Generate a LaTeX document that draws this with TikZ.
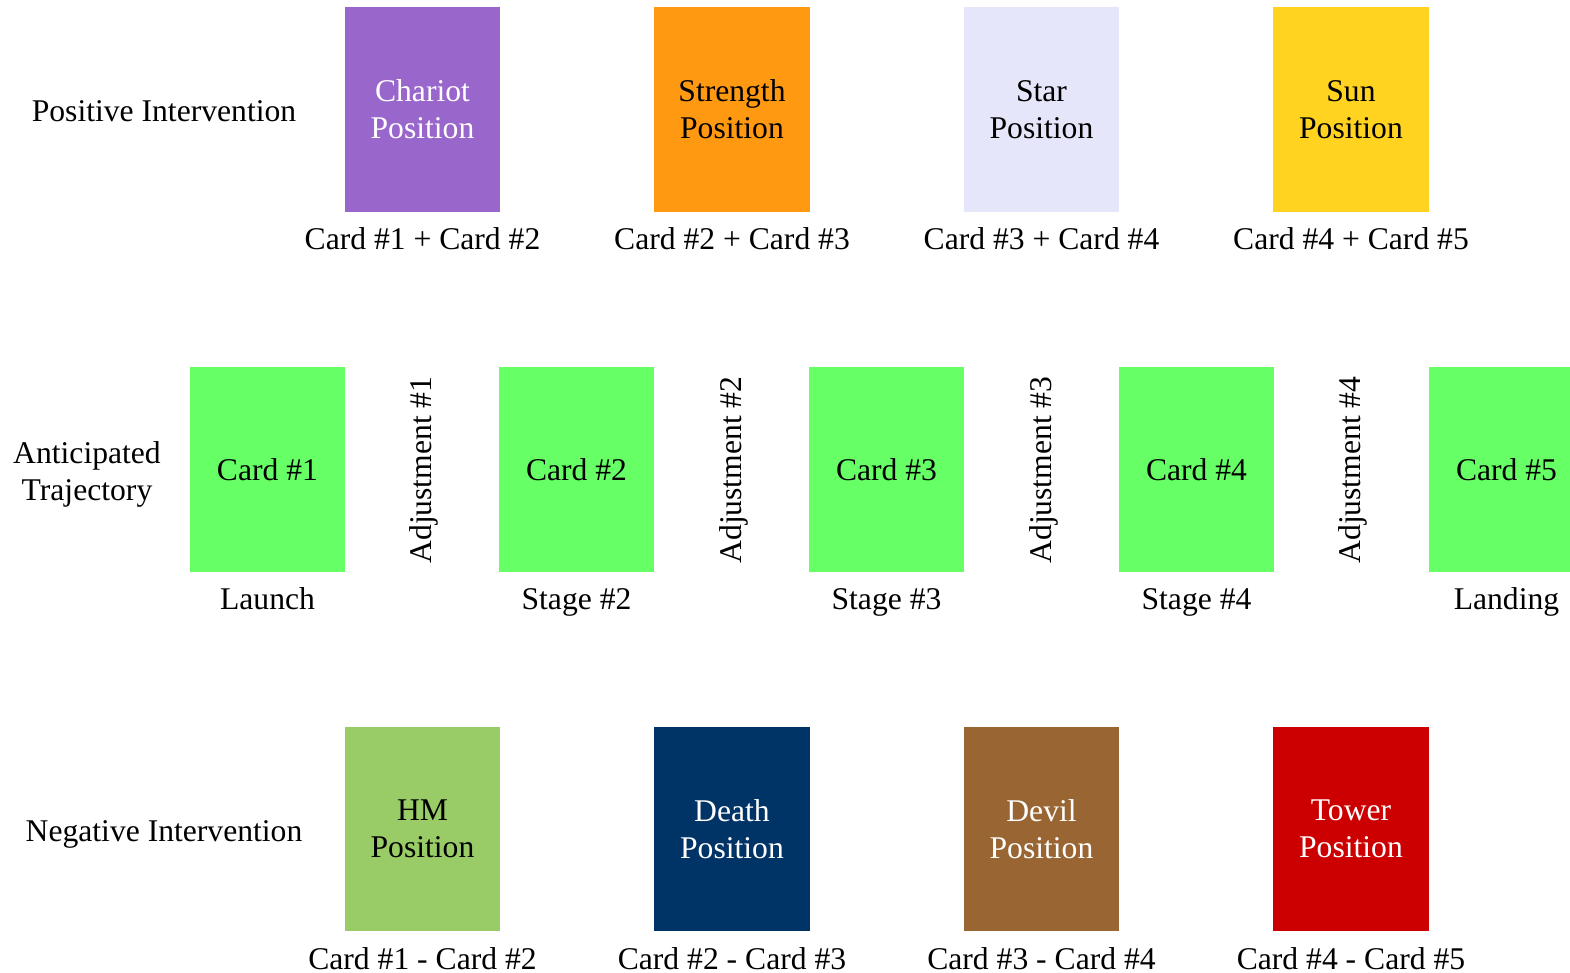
\documentclass[tikz,border=0pt]{standalone}
\usepackage{fontspec}
\setmainfont{Liberation Serif}
\usepackage{tikz}
\usetikzlibrary{positioning}
\definecolor{chariotcol}{HTML}{9966CC}
\definecolor{strengthcol}{HTML}{FF9912}
\definecolor{starcol}{HTML}{E6E6FA}
\definecolor{suncol}{HTML}{FFD320}
\definecolor{trajcol}{HTML}{66FF66}
\definecolor{hmcol}{HTML}{99CC66}
\definecolor{deathcol}{HTML}{003366}
\definecolor{devilcol}{HTML}{996633}
\definecolor{towercol}{HTML}{CC0000}
\newcommand{\cardfont}{\fontsize{18}{21}\selectfont}

\begin{document}
\begin{tikzpicture}[x=0.02cm, y=-0.02cm,
    card/.style={minimum width=3.12cm, minimum height=4.1cm, inner sep=0pt, align=center, font=\cardfont},
    sublabel/.style={anchor=base, inner sep=0pt, font=\cardfont},
    rowlabel/.style={align=center, font=\cardfont},
    adjust/.style={rotate=90, font=\cardfont}]
            \useasboundingbox (0,0) rectangle (1570,973);
            % positive intervention
            \node[rowlabel] (pos) at (164,111) {Positive Intervention};
            \node[card, fill=chariotcol, text=white] (chariot) at (422.5,109.5) {Chariot\\Position};
            \node[card, fill=strengthcol] (strength) at (732,109.5) {Strength\\Position};
            \node[card, fill=starcol] (star) at (1041.5,109.5) {Star\\Position};
            \node[card, fill=suncol] (sun) at (1351,109.5) {Sun\\Position};
            \node[sublabel, below=0.75cm of chariot.south, anchor=base] (chariotsum) {Card \#1 + Card \#2};
            \node[sublabel, below=0.75cm of strength.south, anchor=base] (strengthsum) {Card \#2 + Card \#3};
            \node[sublabel, below=0.75cm of star.south, anchor=base] (starsum) {Card \#3 + Card \#4};
            \node[sublabel, below=0.75cm of sun.south, anchor=base] (sunsum) {Card \#4 + Card \#5};
            % anticipated trajectory
            \node[rowlabel] (traj) at (87,474) {Anticipated\\Trajectory};
            \node[card, fill=trajcol] (card1) at (267.5,469.5) {Card \#1};
            \node[card, fill=trajcol] (card2) at (576.5,469.5) {Card \#2};
            \node[card, fill=trajcol] (card3) at (886.5,469.5) {Card \#3};
            \node[card, fill=trajcol] (card4) at (1196.5,469.5) {Card \#4};
            \node[card, fill=trajcol] (card5) at (1506.5,469.5) {Card \#5};
            \node[adjust] (adj1) at (424,470) {Adjustment \#1};
            \node[adjust] (adj2) at (734,470) {Adjustment \#2};
            \node[adjust] (adj3) at (1044,470) {Adjustment \#3};
            \node[adjust] (adj4) at (1353,470) {Adjustment \#4};
            \node[sublabel, below=0.75cm of card1.south, anchor=base] (launch) {Launch};
            \node[sublabel, below=0.75cm of card2.south, anchor=base] (stage2) {Stage \#2};
            \node[sublabel, below=0.75cm of card3.south, anchor=base] (stage3) {Stage \#3};
            \node[sublabel, below=0.75cm of card4.south, anchor=base] (stage4) {Stage \#4};
            \node[sublabel, below=0.75cm of card5.south, anchor=base] (landing) {Landing};
            % negative intervention
            \node[rowlabel] (neg) at (164,834) {Negative Intervention};
            \node[card, fill=hmcol] (hm) at (422.5,829) {HM\\Position};
            \node[card, fill=deathcol, text=white] (death) at (732,829) {Death\\Position};
            \node[card, fill=devilcol, text=white] (devil) at (1041.5,829) {Devil\\Position};
            \node[card, fill=towercol, text=white] (tower) at (1351,829) {Tower\\Position};
            \node[sublabel, below=0.75cm of hm.south, anchor=base] (hmdiff) {Card \#1 - Card \#2};
            \node[sublabel, below=0.75cm of death.south, anchor=base] (deathdiff) {Card \#2 - Card \#3};
            \node[sublabel, below=0.75cm of devil.south, anchor=base] (devildiff) {Card \#3 - Card \#4};
            \node[sublabel, below=0.75cm of tower.south, anchor=base] (towerdiff) {Card \#4 - Card \#5};
\end{tikzpicture}
\end{document}
